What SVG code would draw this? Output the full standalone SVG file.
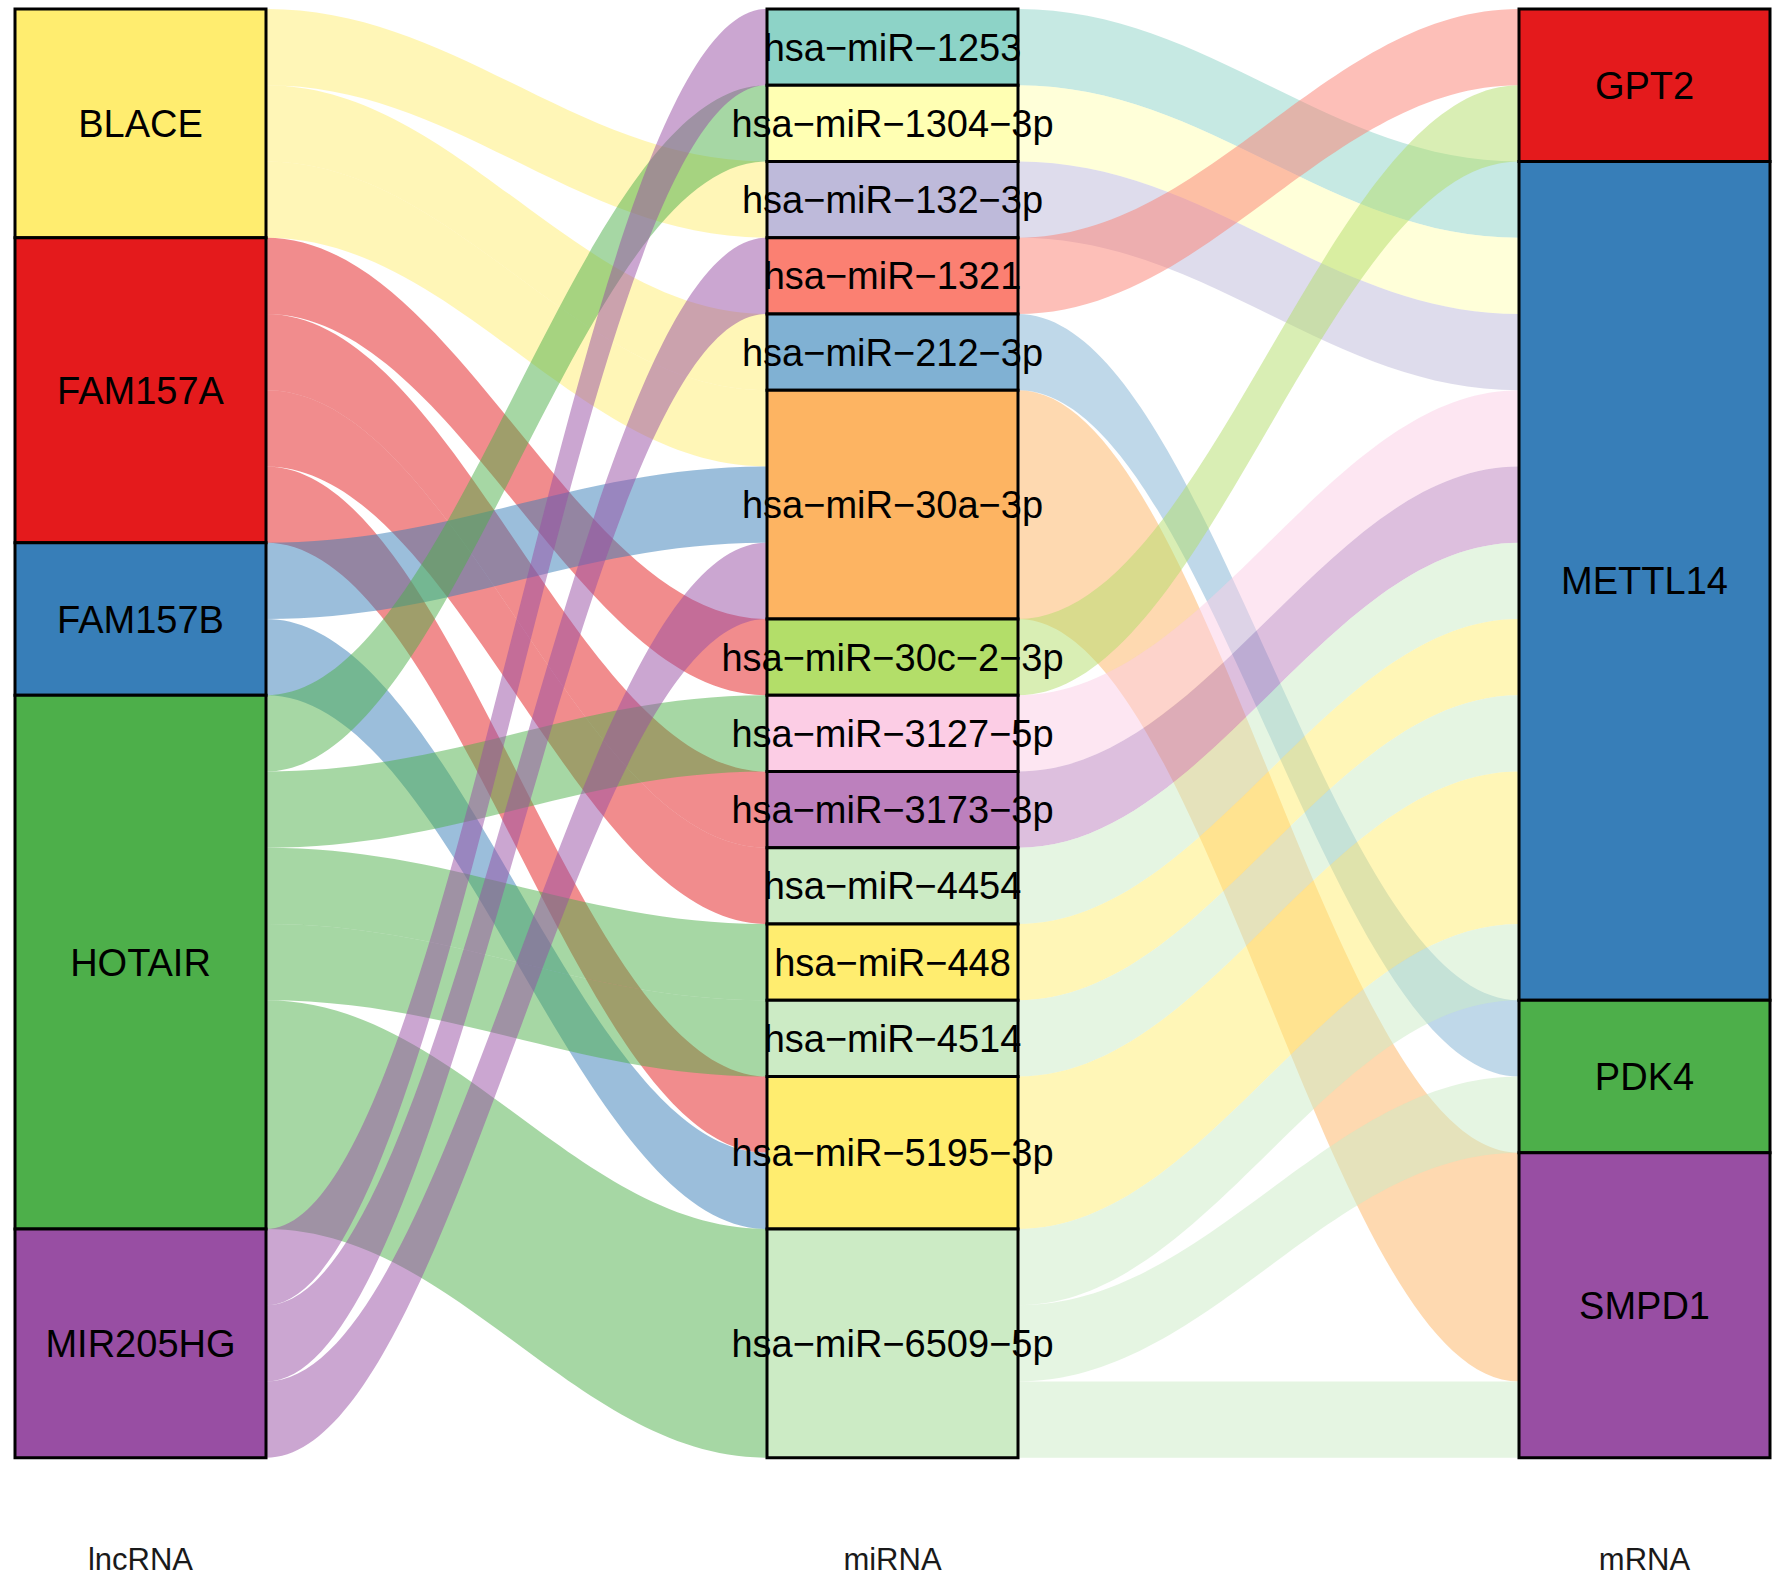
<svg xmlns="http://www.w3.org/2000/svg" width="1784" height="1577" viewBox="0 0 1784 1577">
<style>
.fl{fill-opacity:0.5;stroke:none}
.box{stroke:#000;stroke-width:3}
.lbl{font-family:"Liberation Sans",Arial,sans-serif;font-size:38px;fill:#000;text-anchor:middle}
.ax{font-family:"Liberation Sans",Arial,sans-serif;font-size:31px;fill:#1a1a1a;text-anchor:middle}
.cY{fill:#FFED6F}.cR{fill:#E41A1C}.cB{fill:#377EB8}.cG{fill:#4DAF4A}.cP{fill:#984EA3}
.m1253{fill:#8DD3C7}.m1304{fill:#FFFFB3}.m132{fill:#BEBADA}.m1321{fill:#FB8072}.m212{fill:#80B1D3}
.m30a{fill:#FDB462}.m30c{fill:#B3DE69}.m3127{fill:#FCCDE5}.m3173{fill:#BC80BD}.mLG{fill:#CCEBC5}.mYL{fill:#FFED6F}
</style>
<rect width="1784" height="1577" fill="#fff"/>
<g id="connectors">
<g id="flows-lnc-mi">
<path class="fl cY" d="M266,9 C456.4,9 576.6,161.5 767,161.5 L767,237.75 C576.6,237.75 456.4,85.25 266,85.25Z"/>
<path class="fl cY" d="M266,85.25 C456.4,85.25 576.6,314 767,314 L767,390.25 C576.6,390.25 456.4,161.5 266,161.5Z"/>
<path class="fl cY" d="M266,161.5 C456.4,161.5 576.6,390.25 767,390.25 L767,466.5 C576.6,466.5 456.4,237.75 266,237.75Z"/>
<path class="fl cR" d="M266,237.75 C456.4,237.75 576.6,619 767,619 L767,695.25 C576.6,695.25 456.4,314 266,314Z"/>
<path class="fl cR" d="M266,314 C456.4,314 576.6,771.5 767,771.5 L767,847.75 C576.6,847.75 456.4,390.25 266,390.25Z"/>
<path class="fl cR" d="M266,390.25 C456.4,390.25 576.6,847.75 767,847.75 L767,924 C576.6,924 456.4,466.5 266,466.5Z"/>
<path class="fl cR" d="M266,466.5 C456.4,466.5 576.6,1076.5 767,1076.5 L767,1152.75 C576.6,1152.75 456.4,542.75 266,542.75Z"/>
<path class="fl cB" d="M266,542.75 C456.4,542.75 576.6,466.5 767,466.5 L767,542.75 C576.6,542.75 456.4,619 266,619Z"/>
<path class="fl cB" d="M266,619 C456.4,619 576.6,1152.75 767,1152.75 L767,1229 C576.6,1229 456.4,695.25 266,695.25Z"/>
<path class="fl cG" d="M266,695.25 C456.4,695.25 576.6,85.25 767,85.25 L767,161.5 C576.6,161.5 456.4,771.5 266,771.5Z"/>
<path class="fl cG" d="M266,771.5 C456.4,771.5 576.6,695.25 767,695.25 L767,771.5 C576.6,771.5 456.4,847.75 266,847.75Z"/>
<path class="fl cG" d="M266,847.75 C456.4,847.75 576.6,924 767,924 L767,1000.25 C576.6,1000.25 456.4,924 266,924Z"/>
<path class="fl cG" d="M266,924 C456.4,924 576.6,1000.25 767,1000.25 L767,1076.5 C576.6,1076.5 456.4,1000.25 266,1000.25Z"/>
<path class="fl cG" d="M266,1000.25 C456.4,1000.25 576.6,1229 767,1229 L767,1457.75 C576.6,1457.75 456.4,1229 266,1229Z"/>
<path class="fl cP" d="M266,1229 C456.4,1229 576.6,9 767,9 L767,85.25 C576.6,85.25 456.4,1305.25 266,1305.25Z"/>
<path class="fl cP" d="M266,1305.25 C456.4,1305.25 576.6,237.75 767,237.75 L767,314 C576.6,314 456.4,1381.5 266,1381.5Z"/>
<path class="fl cP" d="M266,1381.5 C456.4,1381.5 576.6,542.75 767,542.75 L767,619 C576.6,619 456.4,1457.75 266,1457.75Z"/>
</g>
<g id="flows-mi-m">
<path class="fl m1253" d="M1018,9 C1208.4,9 1328.6,161.5 1519,161.5 L1519,237.75 C1328.6,237.75 1208.4,85.25 1018,85.25Z"/>
<path class="fl m1304" d="M1018,85.25 C1208.4,85.25 1328.6,237.75 1519,237.75 L1519,314 C1328.6,314 1208.4,161.5 1018,161.5Z"/>
<path class="fl m132" d="M1018,161.5 C1208.4,161.5 1328.6,314 1519,314 L1519,390.25 C1328.6,390.25 1208.4,237.75 1018,237.75Z"/>
<path class="fl m1321" d="M1018,237.75 C1208.4,237.75 1328.6,9 1519,9 L1519,85.25 C1328.6,85.25 1208.4,314 1018,314Z"/>
<path class="fl m212" d="M1018,314 C1208.4,314 1328.6,1000.25 1519,1000.25 L1519,1076.5 C1328.6,1076.5 1208.4,390.25 1018,390.25Z"/>
<path class="fl m30a" d="M1018,390.25 C1208.4,390.25 1328.6,1152.75 1519,1152.75 L1519,1381.5 C1328.6,1381.5 1208.4,619 1018,619Z"/>
<path class="fl m30c" d="M1018,619 C1208.4,619 1328.6,85.25 1519,85.25 L1519,161.5 C1328.6,161.5 1208.4,695.25 1018,695.25Z"/>
<path class="fl m3127" d="M1018,695.25 C1208.4,695.25 1328.6,390.25 1519,390.25 L1519,466.5 C1328.6,466.5 1208.4,771.5 1018,771.5Z"/>
<path class="fl m3173" d="M1018,771.5 C1208.4,771.5 1328.6,466.5 1519,466.5 L1519,542.75 C1328.6,542.75 1208.4,847.75 1018,847.75Z"/>
<path class="fl mLG" d="M1018,847.75 C1208.4,847.75 1328.6,542.75 1519,542.75 L1519,619 C1328.6,619 1208.4,924 1018,924Z"/>
<path class="fl mYL" d="M1018,924 C1208.4,924 1328.6,619 1519,619 L1519,695.25 C1328.6,695.25 1208.4,1000.25 1018,1000.25Z"/>
<path class="fl mLG" d="M1018,1000.25 C1208.4,1000.25 1328.6,695.25 1519,695.25 L1519,771.5 C1328.6,771.5 1208.4,1076.5 1018,1076.5Z"/>
<path class="fl mYL" d="M1018,1076.5 C1208.4,1076.5 1328.6,771.5 1519,771.5 L1519,924 C1328.6,924 1208.4,1229 1018,1229Z"/>
<path class="fl mLG" d="M1018,1229 C1208.4,1229 1328.6,924 1519,924 L1519,1000.25 C1328.6,1000.25 1208.4,1305.25 1018,1305.25Z"/>
<path class="fl mLG" d="M1018,1305.25 C1208.4,1305.25 1328.6,1076.5 1519,1076.5 L1519,1152.75 C1328.6,1152.75 1208.4,1381.5 1018,1381.5Z"/>
<path class="fl mLG" d="M1018,1381.5 L1519,1381.5 L1519,1457.75 L1018,1457.75Z"/>
</g>
</g>
<g id="lncRNA-nodes">
<g id="node-BLACE"><rect class="box cY" x="15" y="9" width="251" height="228.75"/></g>
<g id="node-FAM157A"><rect class="box cR" x="15" y="237.75" width="251" height="305"/></g>
<g id="node-FAM157B"><rect class="box cB" x="15" y="542.75" width="251" height="152.5"/></g>
<g id="node-HOTAIR"><rect class="box cG" x="15" y="695.25" width="251" height="533.75"/></g>
<g id="node-MIR205HG"><rect class="box cP" x="15" y="1229" width="251" height="228.75"/></g>
</g>
<g id="miRNA-nodes">
<g id="node-miR-1253"><rect class="box m1253" x="767" y="9" width="251" height="76.25"/></g>
<g id="node-miR-1304-3p"><rect class="box m1304" x="767" y="85.25" width="251" height="76.25"/></g>
<g id="node-miR-132-3p"><rect class="box m132" x="767" y="161.5" width="251" height="76.25"/></g>
<g id="node-miR-1321"><rect class="box m1321" x="767" y="237.75" width="251" height="76.25"/></g>
<g id="node-miR-212-3p"><rect class="box m212" x="767" y="314" width="251" height="76.25"/></g>
<g id="node-miR-30a-3p"><rect class="box m30a" x="767" y="390.25" width="251" height="228.75"/></g>
<g id="node-miR-30c-2-3p"><rect class="box m30c" x="767" y="619" width="251" height="76.25"/></g>
<g id="node-miR-3127-5p"><rect class="box m3127" x="767" y="695.25" width="251" height="76.25"/></g>
<g id="node-miR-3173-3p"><rect class="box m3173" x="767" y="771.5" width="251" height="76.25"/></g>
<g id="node-miR-4454"><rect class="box mLG" x="767" y="847.75" width="251" height="76.25"/></g>
<g id="node-miR-448"><rect class="box mYL" x="767" y="924" width="251" height="76.25"/></g>
<g id="node-miR-4514"><rect class="box mLG" x="767" y="1000.25" width="251" height="76.25"/></g>
<g id="node-miR-5195-3p"><rect class="box mYL" x="767" y="1076.5" width="251" height="152.5"/></g>
<g id="node-miR-6509-5p"><rect class="box mLG" x="767" y="1229" width="251" height="228.75"/></g>
</g>
<g id="mRNA-nodes">
<g id="node-GPT2"><rect class="box cR" x="1519" y="9" width="251" height="152.5"/></g>
<g id="node-METTL14"><rect class="box cB" x="1519" y="161.5" width="251" height="838.75"/></g>
<g id="node-PDK4"><rect class="box cG" x="1519" y="1000.25" width="251" height="152.5"/></g>
<g id="node-SMPD1"><rect class="box cP" x="1519" y="1152.75" width="251" height="305"/></g>
</g>
<g id="labels">
<text class="lbl" x="140.5" y="137">BLACE</text>
<text class="lbl" x="140.5" y="403.5">FAM157A</text>
<text class="lbl" x="140.5" y="632.5">FAM157B</text>
<text class="lbl" x="140.5" y="975.5">HOTAIR</text>
<text class="lbl" x="140.5" y="1357">MIR205HG</text>
<text class="lbl" x="892.5" y="60.6">hsa−miR−1253</text>
<text class="lbl" x="892.5" y="136.9">hsa−miR−1304−3p</text>
<text class="lbl" x="892.5" y="213.1">hsa−miR−132−3p</text>
<text class="lbl" x="892.5" y="289.4">hsa−miR−1321</text>
<text class="lbl" x="892.5" y="365.6">hsa−miR−212−3p</text>
<text class="lbl" x="892.5" y="518.1">hsa−miR−30a−3p</text>
<text class="lbl" x="892.5" y="670.6">hsa−miR−30c−2−3p</text>
<text class="lbl" x="892.5" y="746.9">hsa−miR−3127−5p</text>
<text class="lbl" x="892.5" y="823.1">hsa−miR−3173−3p</text>
<text class="lbl" x="892.5" y="899.4">hsa−miR−4454</text>
<text class="lbl" x="892.5" y="975.6">hsa−miR−448</text>
<text class="lbl" x="892.5" y="1051.9">hsa−miR−4514</text>
<text class="lbl" x="892.5" y="1166.3">hsa−miR−5195−3p</text>
<text class="lbl" x="892.5" y="1356.9">hsa−miR−6509−5p</text>
<text class="lbl" x="1644.5" y="98.8">GPT2</text>
<text class="lbl" x="1644.5" y="594.4">METTL14</text>
<text class="lbl" x="1644.5" y="1090">PDK4</text>
<text class="lbl" x="1644.5" y="1318.8">SMPD1</text>
<text class="ax" x="140.5" y="1570">lncRNA</text>
<text class="ax" x="892.5" y="1570">miRNA</text>
<text class="ax" x="1644.5" y="1570">mRNA</text>
</g>
</svg>
